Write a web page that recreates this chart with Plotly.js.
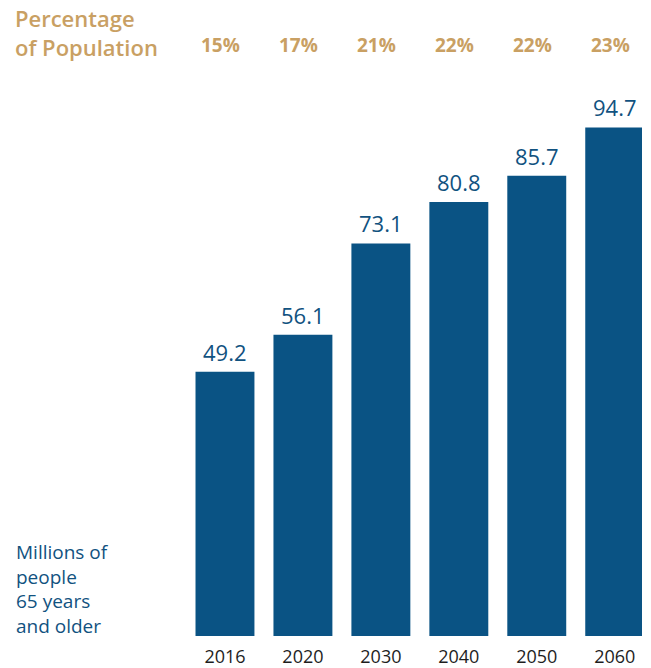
<!DOCTYPE html>
<html>
<head>
<meta charset="utf-8">
<script src="https://cdn.plot.ly/plotly-3.0.1.min.js"></script>
<style>html,body{margin:0;padding:0;background:#fff;}#chart{width:651px;height:668px;}</style>
</head>
<body>
<div id="chart"></div>
<script>
const years = ["2016", "2020", "2030", "2040", "2050", "2060"];
const millions = [49.2, 56.1, 73.1, 80.8, 85.7, 94.7];
const percentLabels = ["15%", "17%", "21%", "22%", "22%", "23%"];
const topTitle = "Percentage<br>of Population";
const sideTitle = "Millions of<br>people<br>65 years<br>and older";

const W = 651, H = 668;
const M = {l: 186, r: 9, t: 99, b: 32};
const pw = W - M.l - M.r, ph = H - M.t - M.b;
const px = v => (v - M.l) / pw;
const py = v => (H - M.b - v) / ph;

const BLUE = "#0a5384";
const TEXTBLUE = "#11527f";
const GOLD = "#c9a063";
const FONT = "Open Sans, sans-serif";

const idx = years.map((_, i) => i);

const annotations = [];
idx.forEach(i => {
  annotations.push({
    x: i, y: millions[i], xref: "x", yref: "y",
    text: millions[i].toFixed(1), showarrow: false,
    yanchor: "bottom", yshift: 3,
    font: {family: FONT, size: 22, color: TEXTBLUE}
  });
  annotations.push({
    x: i, y: py(45), xref: "x", yref: "paper",
    text: percentLabels[i], showarrow: false,
    yanchor: "middle", xshift: -4,
    font: {family: FONT, size: 19, color: GOLD, weight: 700}
  });
});
annotations.push({
  x: px(13), y: py(32), xref: "paper", yref: "paper",
  text: topTitle, showarrow: false, xanchor: "left", yanchor: "middle",
  align: "left", font: {family: FONT, size: 22, color: GOLD, weight: 600}
});
annotations.push({
  x: px(14), y: py(589), xref: "paper", yref: "paper",
  text: sideTitle, showarrow: false, xanchor: "left", yanchor: "middle",
  align: "left", font: {family: FONT, size: 19, color: TEXTBLUE}
});

const data = [{
  type: "bar", x: idx, y: millions,
  marker: {color: BLUE},
  hoverinfo: "skip"
}];

const layout = {
  width: W, height: H,
  margin: M,
  paper_bgcolor: "#fff", plot_bgcolor: "#fff",
  bargap: 0.244,
  showlegend: false,
  xaxis: {
    type: "linear", range: [-0.5, 5.35],
    tickmode: "array", tickvals: idx, ticktext: years,
    showgrid: false, zeroline: false, showline: false, ticks: "",
    tickfont: {family: FONT, size: 18, color: "#1e1e1e"},
    ticklabelstandoff: 8, fixedrange: true
  },
  yaxis: {
    range: [0, 100], visible: false, showgrid: false, zeroline: false, fixedrange: true
  },
  annotations: annotations
};

Plotly.newPlot("chart", data, layout, {displayModeBar: false, staticPlot: true});
</script>
</body>
</html>
